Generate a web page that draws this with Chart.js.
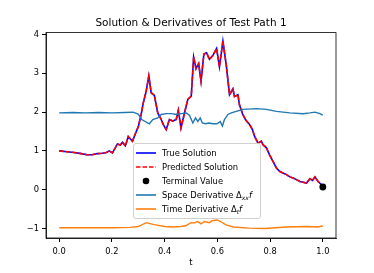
<!DOCTYPE html>
<html>
<head>
<meta charset="utf-8">
<script src="https://cdn.jsdelivr.net/npm/chart.js@4/dist/chart.umd.min.js"></script>
<style>
	body { margin: 0; background: #fff; }
	#wrap { position: relative; width: 374px; height: 273px; }
	#legend {
		position: absolute; left: 133px; top: 143px; width: 126px; height: 74px;
		border: 1px solid #d0d0d0; border-radius: 3px; background: rgba(255,255,255,0.8);
		font-family: "DejaVu Sans", sans-serif; font-size: 8.4px; color: #000;
	}
	.row { position: absolute; left: 0; height: 14px; line-height: 14px; white-space: nowrap; }
	.row svg { position: absolute; left: 2px; top: 0; }
	.row span { position: absolute; left: 28px; }
	sub { font-size: 6px; vertical-align: -2px; }
</style>
</head>
<body>
<div id="wrap">
	<canvas id="chart" width="374" height="273"></canvas>
	<div id="legend">
		<div class="row" style="top:2px"><svg width="22" height="14"><line x1="0" y1="7" x2="20" y2="7" stroke="#0000ff" stroke-width="1.6"/></svg><span>True Solution</span></div>
		<div class="row" style="top:16px"><svg width="22" height="14"><line x1="0" y1="7" x2="20" y2="7" stroke="#ff0000" stroke-width="1.6" stroke-dasharray="4.5 2"/></svg><span>Predicted Solution</span></div>
		<div class="row" style="top:30px"><svg width="22" height="14"><circle cx="10" cy="7" r="3.3" fill="#000"/></svg><span>Terminal Value</span></div>
		<div class="row" style="top:44px"><svg width="22" height="14"><line x1="0" y1="7" x2="20" y2="7" stroke="#1f77b4" stroke-width="1.6"/></svg><span>Space Derivative Δ<sub><i>xx</i></sub><i>f</i></span></div>
		<div class="row" style="top:58px"><svg width="22" height="14"><line x1="0" y1="7" x2="20" y2="7" stroke="#ff7f0e" stroke-width="1.6"/></svg><span>Time Derivative Δ<sub><i>t</i></sub><i>f</i></span></div>
	</div>
</div>
<script>
// Solution path (true and predicted lie on top of each other)
const solT = [0, 0.030, 0.057, 0.084, 0.106, 0.125, 0.144, 0.163, 0.179, 0.190, 0.202, 0.221, 0.232, 0.240, 0.251, 0.262, 0.278, 0.291, 0.300, 0.311, 0.319, 0.330, 0.340, 0.349, 0.361, 0.374, 0.387, 0.395, 0.406, 0.418, 0.431, 0.444, 0.452, 0.462, 0.475, 0.488, 0.501, 0.510, 0.519, 0.529, 0.538, 0.549, 0.559, 0.570, 0.582, 0.597, 0.608, 0.621, 0.634, 0.646, 0.659, 0.665, 0.678, 0.684, 0.696, 0.707, 0.722, 0.733, 0.741, 0.754, 0.767, 0.773, 0.786, 0.798, 0.811, 0.824, 0.837, 0.849, 0.862, 0.875, 0.887, 0.900, 0.913, 0.925, 0.938, 0.951, 0.961, 0.970, 0.982, 0.995, 1.0];
const trueSol = [1.00, 0.98, 0.96, 0.93, 0.90, 0.90, 0.93, 0.94, 0.96, 1.00, 0.95, 1.18, 1.15, 1.22, 1.13, 1.37, 1.25, 1.48, 1.62, 1.94, 2.24, 2.54, 2.93, 2.50, 2.43, 1.98, 1.81, 1.68, 1.55, 1.81, 1.77, 1.81, 2.05, 1.59, 1.97, 2.33, 2.41, 3.42, 3.12, 3.25, 2.80, 3.50, 3.53, 3.36, 3.45, 3.64, 3.17, 3.83, 3.20, 2.45, 2.60, 2.40, 2.45, 2.18, 1.95, 1.80, 1.68, 1.55, 1.38, 1.20, 1.25, 1.16, 1.08, 0.90, 0.73, 0.56, 0.47, 0.43, 0.39, 0.33, 0.30, 0.26, 0.21, 0.19, 0.17, 0.28, 0.24, 0.33, 0.21, 0.13, 0.08];
const predSol = [1.00, 0.98, 0.96, 0.93, 0.90, 0.90, 0.93, 0.94, 0.96, 1.00, 0.95, 1.18, 1.15, 1.22, 1.13, 1.37, 1.25, 1.48, 1.62, 1.94, 2.24, 2.54, 2.93, 2.50, 2.43, 1.98, 1.81, 1.68, 1.55, 1.81, 1.77, 1.81, 2.05, 1.59, 1.97, 2.33, 2.41, 3.42, 3.12, 3.25, 2.80, 3.50, 3.53, 3.36, 3.45, 3.64, 3.17, 3.83, 3.20, 2.45, 2.60, 2.40, 2.45, 2.18, 1.95, 1.80, 1.68, 1.55, 1.38, 1.20, 1.25, 1.16, 1.08, 0.90, 0.73, 0.56, 0.47, 0.43, 0.39, 0.33, 0.30, 0.26, 0.21, 0.19, 0.17, 0.28, 0.24, 0.33, 0.21, 0.13, 0.08];

// Terminal value
const terminalT = [1.0];
const terminalVal = [0.07];

// Space derivative
const spaceT = [0, 0.05, 0.10, 0.15, 0.20, 0.25, 0.28, 0.300, 0.313, 0.342, 0.355, 0.374, 0.387, 0.406, 0.425, 0.444, 0.463, 0.482, 0.494, 0.507, 0.517, 0.526, 0.535, 0.543, 0.555, 0.568, 0.583, 0.598, 0.611, 0.619, 0.627, 0.640, 0.653, 0.672, 0.697, 0.748, 0.786, 0.824, 0.875, 0.925, 0.951, 0.970, 0.989, 1.0];
const spaceDeriv = [1.98, 1.99, 1.98, 1.99, 1.98, 1.99, 2.00, 1.95, 1.81, 1.70, 1.81, 1.85, 1.94, 1.96, 1.96, 1.94, 1.96, 1.98, 1.92, 1.72, 1.85, 1.76, 1.85, 1.72, 1.70, 1.72, 1.70, 1.70, 1.76, 1.64, 1.81, 1.94, 1.98, 2.02, 2.07, 2.09, 2.07, 2.02, 1.98, 1.96, 1.98, 2.00, 1.96, 1.92];

// Time derivative
const timeT = [0, 0.10, 0.20, 0.27, 0.30, 0.33, 0.36, 0.40, 0.43, 0.46, 0.48, 0.50, 0.51, 0.525, 0.538, 0.551, 0.57, 0.58, 0.60, 0.612, 0.631, 0.66, 0.72, 0.78, 0.862, 0.938, 0.982, 1.0];
const timeDeriv = [-0.98, -0.98, -0.98, -0.97, -0.95, -0.85, -0.90, -0.95, -0.96, -0.95, -0.93, -0.85, -0.86, -0.82, -0.88, -0.82, -0.85, -0.80, -0.78, -0.82, -0.90, -0.96, -0.99, -1.00, -0.96, -0.95, -0.96, -0.93];

// Tick labels
const xTicks = [0, 0.2, 0.4, 0.6, 0.8, 1.0];
const yTicks = [-1, 0, 1, 2, 3, 4];

const pts = (xs, ys) => xs.map((x, i) => ({ x: x, y: ys[i] }));
const tickFont = { family: "'DejaVu Sans', sans-serif", size: 8.3 };

// matplotlib-style box around the plot area
const frame = {
	id: "frame",
	afterDatasetsDraw(chart) {
		const a = chart.chartArea;
		const ctx = chart.ctx;
		ctx.save();
		ctx.strokeStyle = "#000";
		ctx.lineWidth = 0.8;
		ctx.strokeRect(a.left, a.top, a.right - a.left, a.bottom - a.top);
		ctx.restore();
	},
};

new Chart(document.getElementById("chart"), {
	type: "line",
	data: {
		datasets: [
			{ label: "True Solution", data: pts(solT, trueSol), borderColor: "#0000ff", borderWidth: 1.6, pointRadius: 0, order: 5 },
			{ label: "Predicted Solution", data: pts(solT, predSol), borderColor: "#ff0000", borderWidth: 1.6, borderDash: [4.5, 2], pointRadius: 0, order: 4 },
			{ label: "Terminal Value", data: pts(terminalT, terminalVal), showLine: false, pointRadius: 3.4, pointBackgroundColor: "#000", pointBorderWidth: 0, order: 1 },
			{ label: "Space Derivative", data: pts(spaceT, spaceDeriv), borderColor: "#1f77b4", borderWidth: 1.4, pointRadius: 0, order: 3 },
			{ label: "Time Derivative", data: pts(timeT, timeDeriv), borderColor: "#ff7f0e", borderWidth: 1.4, pointRadius: 0, order: 2 },
		],
	},
	options: {
		responsive: false,
		animation: false,
		devicePixelRatio: 1,
		layout: { padding: { left: 8, right: 0, top: 0, bottom: 0 } },
		plugins: {
			legend: { display: false },
			tooltip: { enabled: false },
			title: {
				display: true,
				text: "Solution & Derivatives of Test Path 1",
				color: "#000",
				font: { family: "'DejaVu Sans', sans-serif", size: 10.5, weight: "normal" },
				padding: { top: 17, bottom: 3 },
			},
		},
		scales: {
			x: {
				type: "linear",
				min: -0.05,
				max: 1.05,
				afterBuildTicks: (s) => { s.ticks = xTicks.map((v) => ({ value: v })); },
				afterFit: (s) => { s.height = 35; },
				grid: { drawOnChartArea: false, tickLength: 4, color: "#000" },
				border: { color: "#000", width: 0.8 },
				ticks: { font: tickFont, color: "#000", padding: 5, maxRotation: 0, callback: (v) => v.toFixed(1) },
				title: { display: true, text: "t", color: "#000", font: tickFont, padding: { top: 0, bottom: 5 } },
			},
			y: {
				min: -1.245,
				max: 4.05,
				afterBuildTicks: (s) => { s.ticks = yTicks.map((v) => ({ value: v })); },
				afterFit: (s) => { s.width = 38; },
				grid: { drawOnChartArea: false, tickLength: 4, color: "#000" },
				border: { color: "#000", width: 0.8 },
				ticks: { font: tickFont, color: "#000", padding: 3, callback: (v) => (v < 0 ? "\u2212" + Math.abs(v) : String(v)) },
			},
			// empty right axis that only reserves the right margin
			y2: {
				position: "right",
				afterFit: (s) => { s.width = 38; },
				grid: { display: false },
				border: { display: false },
				ticks: { display: false },
			},
		},
	},
	plugins: [frame],
});
</script>
</body>
</html>
